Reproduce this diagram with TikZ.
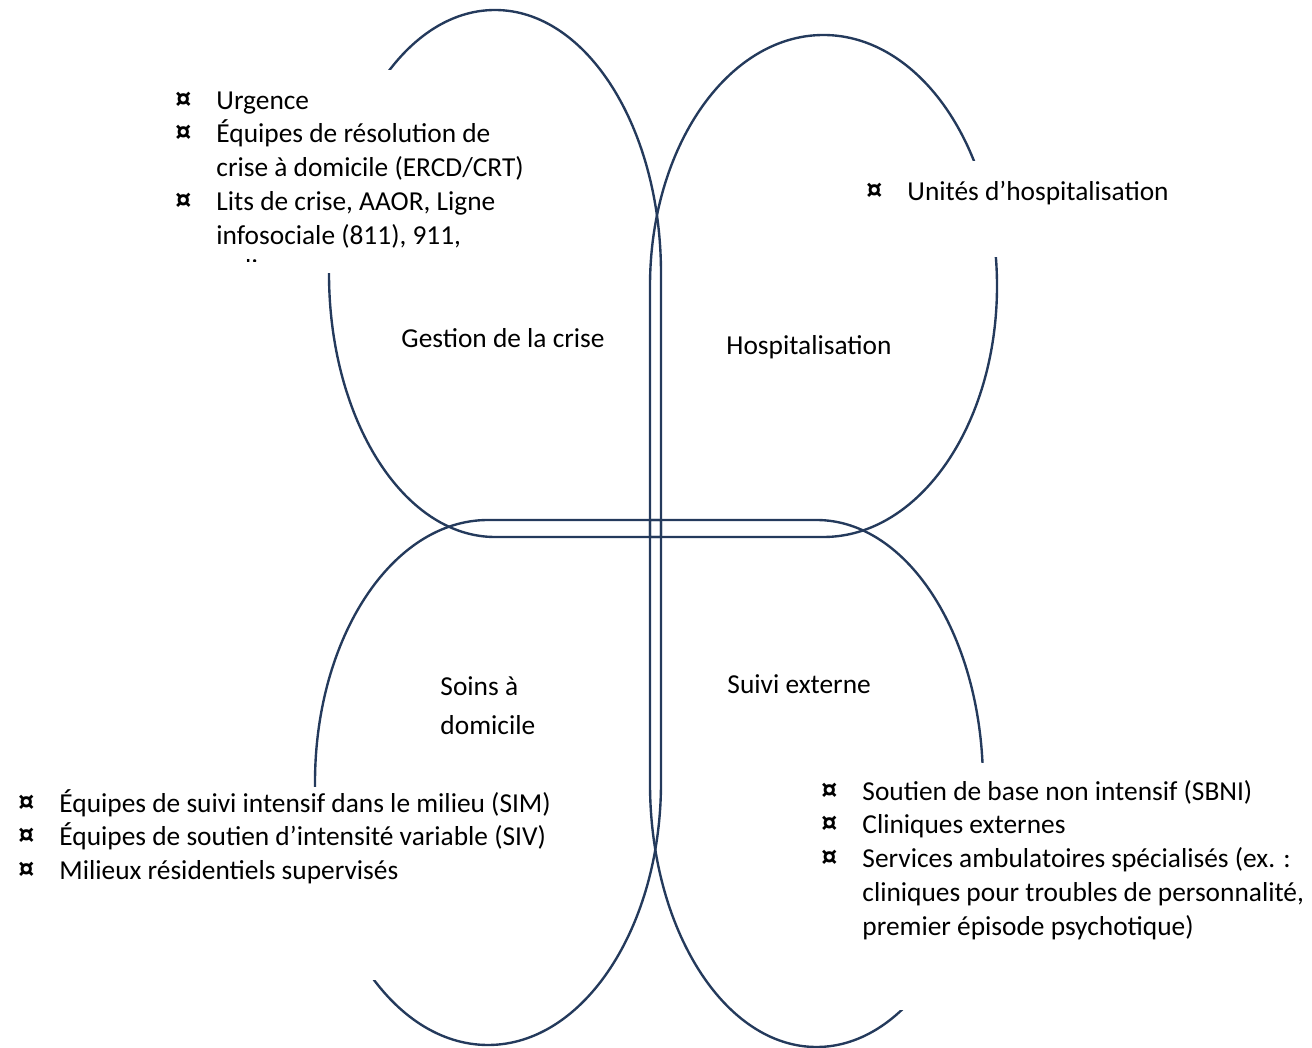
\documentclass[tikz,border=0pt]{standalone}
\usepackage{fontspec}
\setmainfont{Carlito}
\usepackage{tikz}
\usetikzlibrary{positioning}
\definecolor{petalblue}{RGB}{36, 58, 92}

\newlength{\bulind}
\setlength{\bulind}{17.2pt}
\newcommand{\bul}{\strut\makebox[\bulind][l]{\fontsize{13.5}{14.2}\selectfont\bfseries ¤}}
\newcommand{\cont}{\strut\hspace*{\bulind}}

\begin{document}
\begin{tikzpicture}[x=0.42pt, y=-0.42pt,
  petal/.style={draw=petalblue, line width=1pt},
  itemlist/.style={inner sep=0pt, anchor=north west, align=left, font=\fontsize{11.5}{14.2}\selectfont},
  petaltitle/.style={inner sep=0pt, anchor=base west, font=\fontsize{11.5}{14.2}\selectfont}]

  \useasboundingbox (0,0) rectangle (1312,1048);

  % Petals (teardrops, sharp corner in the middle)
  \draw[petal] (661,537) -- (661,273.5) arc[start angle=0, end angle=-270, x radius=166, y radius=263.5] -- cycle;
  \draw[petal] (650,537) -- (650,286) arc[start angle=180, end angle=450, x radius=173.5, y radius=251] -- cycle;
  \draw[petal] (661,520) -- (488,520) arc[start angle=270, end angle=0, x radius=173, y radius=262.5] -- cycle;
  \draw[petal] (650,520) -- (816.5,520) arc[start angle=270, end angle=540, x radius=166.5, y radius=263.5] -- cycle;

  % Text boxes (white, they hide part of the petals)
  \fill[white] (150,70) rectangle (560,273);
  \fill[white] (850,161) rectangle (1210,257);
  \fill[white] (0,787) rectangle (565,980);
  \fill[white] (805,763) rectangle (1312,1010);

  % Petal titles
  \node[petaltitle] (crise) at (401,348) {Gestion de la crise};
  \node[petaltitle] (hosp) at (726,355) {Hospitalisation};
  \node[itemlist] (soins) at (440,671) {\strut Soins à\\[2.2pt]domicile};
  \node[petaltitle] (suivi) at (727,694) {Suivi externe};

  % Lists
  \begin{scope}
    \clip (150,70) rectangle (560,262);
    \node[itemlist] (crise list) at (175,85) {\bul Urgence\\
      \bul Équipes de résolution de\\
      \cont crise à domicile (ERCD/CRT)\\
      \bul Lits de crise, AAOR, Ligne\\
      \cont infosociale (811), 911,\\
      \cont police};
  \end{scope}
  \node[itemlist] (hosp list) at (866,176) {\bul Unités d’hospitalisation};
  \node[itemlist] (soins list) at (18,788) {\bul Équipes de suivi intensif dans le milieu (SIM)\\
    \bul Équipes de soutien d’intensité variable (SIV)\\
    \bul Milieux résidentiels supervisés};
  \node[itemlist] (suivi list) at (821,776) {\bul Soutien de base non intensif (SBNI)\\
    \bul Cliniques externes\\
    \bul Services ambulatoires spécialisés (ex. :\\
    \cont cliniques pour troubles de personnalité,\\
    \cont premier épisode psychotique)};
\end{tikzpicture}
\end{document}
